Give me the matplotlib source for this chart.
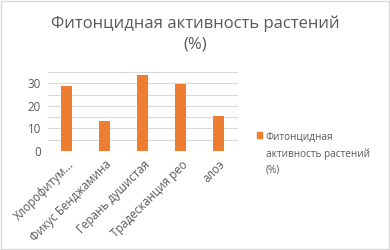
import matplotlib.pyplot as plt
from matplotlib.patches import Rectangle

plt.rcParams['font.family'] = ['Open Sans', 'DejaVu Sans']

# данные
plants = ['Хлорофитум...', 'Фикус Бенджамина', 'Герань душистая',
          'Традесканция рео', 'алоэ']
activity = [28.7, 13.4, 33.6, 29.6, 15.6]
series_name = 'Фитонцидная\nактивность растений\n(%)'

gray = '#595959'
orange = '#ED7D31'

fig = plt.figure(figsize=(3.9, 2.5), dpi=100)
fig.patches.append(Rectangle((0.002, 0.004), 0.995, 0.992, transform=fig.transFigure,
                             fill=False, edgecolor='#D9D9D9', linewidth=1))
ax = fig.add_axes([0.123, 0.396, 0.487, 0.316])

x = range(len(plants))
ax.bar(x, activity, width=0.29, color=orange, zorder=3)

ax.set_ylim(0, 35)
ax.set_xlim(-0.5, len(plants) - 0.5)
ax.set_yticks(range(0, 36, 5))
ax.set_yticklabels(['0', '', '10', '', '20', '', '30', ''])
ax.grid(axis='y', color='#D9D9D9', linewidth=0.8, zorder=0)
ax.tick_params(axis='both', length=0, colors=gray, labelsize=8.3, pad=5)
ax.set_xticks(list(x))
ax.set_xticklabels(plants, rotation=45, ha='right', rotation_mode='anchor')
for s in ax.spines.values():
    s.set_visible(False)

fig.text(0.5, 0.865, 'Фитонцидная активность растений\n(%)', ha='center', va='center',
         fontsize=12, color=gray, linespacing=1.35)

# легенда
fig.patches.append(Rectangle((0.658, 0.45), 0.014, 0.022, transform=fig.transFigure,
                             color=orange))
fig.text(0.682, 0.472, series_name, ha='left', va='top', fontsize=7.2, color=gray,
         linespacing=1.6)

fig.savefig('out.png', dpi=100)
